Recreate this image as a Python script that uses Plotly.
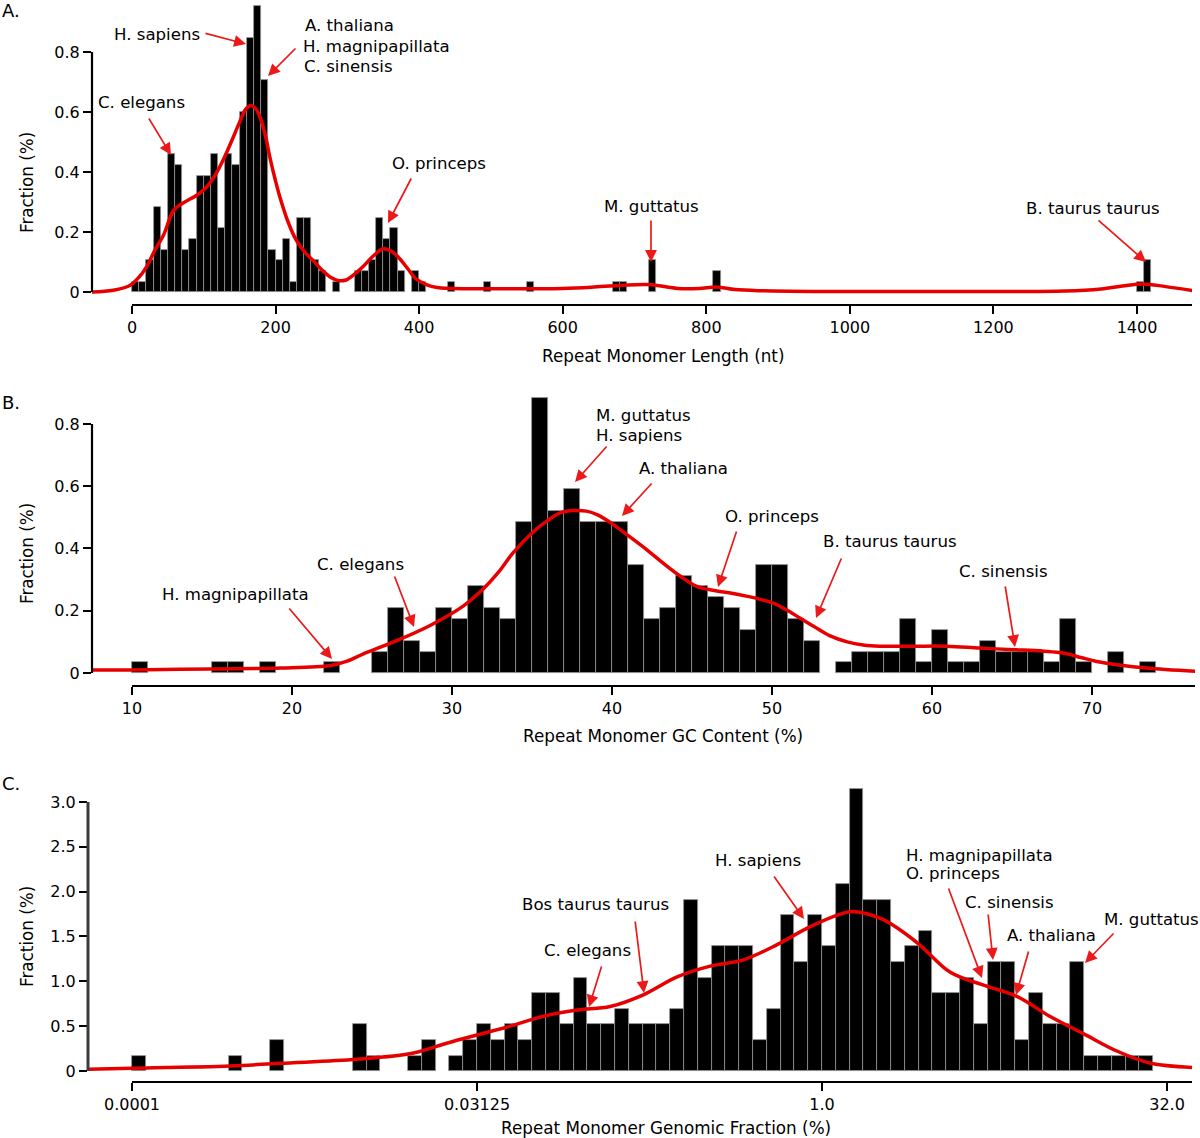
import plotly.graph_objects as go

W, H = 1200, 1138
FONT = "DejaVu Sans"
RED = "rgb(232,0,0)"
ARROW_RED = "rgb(235,25,25)"

# ---------------- Panel A: repeat monomer length (nt), 10-nt bins ----------------
A_len = [0, 10, 20, 30, 40, 50, 60, 70, 80, 90, 100, 110, 120, 130, 140, 150, 160, 170,
         180, 190, 200, 210, 220, 230, 240, 250, 260, 280, 310, 320, 330, 340, 350, 360,
         370, 390, 400, 440, 490, 550, 670, 680, 720, 810, 1400, 1410]
A_frac = [0.035, 0.035, 0.106, 0.282, 0.141, 0.459, 0.424, 0.141, 0.176, 0.388, 0.388,
          0.459, 0.212, 0.459, 0.424, 0.600, 0.847, 0.953, 0.706, 0.141, 0.106, 0.176,
          0.035, 0.247, 0.247, 0.106, 0.071, 0.035, 0.071, 0.071, 0.106, 0.247, 0.176,
          0.212, 0.071, 0.071, 0.035, 0.035, 0.035, 0.035, 0.035, 0.035, 0.106, 0.071,
          0.035, 0.106]
A_curve_x = [-56, -26, -3, 10, 20, 32, 44, 58, 70, 81, 92, 104, 116, 127, 140, 150, 158,
             165, 172, 178, 186, 192, 200, 206, 218, 229, 240, 252, 264, 276, 288, 298,
             310, 322, 336, 350, 362, 373, 385, 395, 410, 425, 445, 500, 560, 600, 640,
             680, 720, 760, 790, 815, 840, 880, 950, 1100, 1300, 1350, 1380, 1408, 1440,
             1477]
A_curve_y = [0.0, 0.006, 0.022, 0.05, 0.083, 0.14, 0.19, 0.272, 0.295, 0.31, 0.325, 0.35,
             0.39, 0.44, 0.51, 0.567, 0.608, 0.622, 0.612, 0.585, 0.52, 0.45, 0.37, 0.317,
             0.23, 0.172, 0.135, 0.106, 0.075, 0.05, 0.038, 0.04, 0.06, 0.085, 0.12, 0.144,
             0.135, 0.111, 0.075, 0.045, 0.025, 0.015, 0.012, 0.011, 0.011, 0.012, 0.016,
             0.022, 0.025, 0.012, 0.012, 0.017, 0.008, 0.004, 0.002, 0.002, 0.003, 0.01,
             0.02, 0.027, 0.018, 0.005]
A_ticks = [0, 200, 400, 600, 800, 1000, 1200, 1400]
A_yticks = [0, 0.2, 0.4, 0.6, 0.8]
A_yticktext = ["0", "0.2", "0.4", "0.6", "0.8"]

# ---------------- Panel B: GC content (%), 1% bins ----------------
B_gc = [10, 15, 16, 18, 22, 25, 26, 27, 28, 29, 30, 31, 32, 33, 34, 35, 36, 37, 38, 39,
        40, 41, 42, 43, 44, 45, 46, 47, 48, 49, 50, 51, 52, 54, 55, 56, 57, 58, 59, 60,
        61, 62, 63, 64, 65, 66, 67, 68, 69, 71, 73]
B_frac = [0.035, 0.035, 0.035, 0.035, 0.035, 0.069, 0.208, 0.104, 0.069, 0.208, 0.173,
          0.278, 0.208, 0.173, 0.486, 0.882, 0.521, 0.590, 0.486, 0.486, 0.486, 0.347,
          0.173, 0.208, 0.312, 0.278, 0.243, 0.208, 0.139, 0.347, 0.347, 0.173, 0.104,
          0.035, 0.069, 0.069, 0.069, 0.173, 0.035, 0.139, 0.035, 0.035, 0.104, 0.069,
          0.069, 0.069, 0.035, 0.173, 0.035, 0.069, 0.035]
B_curve_x = [7.4, 10, 15, 19.3, 22.4, 23.4, 24.4, 26.5, 28.6, 30.7, 31.75, 33.0, 33.8,
             35.0, 35.9, 36.8, 37.6, 38.4, 39.1, 40.0, 41.1, 42.2, 43.2, 44.3, 45.3, 46.4,
             47.4, 48.4, 49.4, 50.2, 50.9, 51.8, 52.6, 53.6, 54.7, 55.7, 56.75, 58.8,
             60.9, 63, 65.1, 67, 68.2, 69.3, 70.3, 71.8, 73.4, 76.5]
B_curve_y = [0.01, 0.01, 0.013, 0.016, 0.024, 0.037, 0.06, 0.103, 0.152, 0.215, 0.26,
             0.33, 0.385, 0.45, 0.487, 0.515, 0.522, 0.52, 0.508, 0.48, 0.438, 0.395,
             0.353, 0.31, 0.278, 0.265, 0.257, 0.247, 0.235, 0.222, 0.203, 0.175, 0.15,
             0.12, 0.10, 0.09, 0.086, 0.086, 0.086, 0.08, 0.075, 0.07, 0.064, 0.05, 0.037,
             0.025, 0.016, 0.005]
B_ticks = [10, 20, 30, 40, 50, 60, 70]
B_yticks = [0, 0.2, 0.4, 0.6, 0.8]
B_yticktext = ["0", "0.2", "0.4", "0.6", "0.8"]

# ---------------- Panel C: genomic fraction (%), log2 bins of 0.2 ----------------
C_log2 = [-10.0, -8.6, -8.0, -6.8, -6.6, -6.0, -5.8, -5.4, -5.2, -5.0, -4.8, -4.6, -4.4,
          -4.2, -4.0, -3.8, -3.6, -3.4, -3.2, -3.0, -2.8, -2.6, -2.4, -2.2, -2.0, -1.8,
          -1.6, -1.4, -1.2, -1.0, -0.8, -0.6, -0.4, -0.2, 0.0, 0.2, 0.4, 0.6, 0.8, 1.0,
          1.2, 1.4, 1.6, 1.8, 2.0, 2.2, 2.4, 2.6, 2.8, 3.0, 3.2, 3.4, 3.6, 3.8, 4.0, 4.2,
          4.4, 4.6]
C_frac = [0.17, 0.17, 0.35, 0.52, 0.17, 0.17, 0.35, 0.17, 0.35, 0.52, 0.35, 0.52, 0.35,
          0.87, 0.87, 0.52, 1.04, 0.52, 0.52, 0.69, 0.52, 0.52, 0.52, 0.69, 1.91, 1.04,
          1.39, 1.39, 1.39, 0.35, 0.69, 1.74, 1.22, 1.74, 1.39, 2.09, 3.14, 1.91, 1.91,
          1.22, 1.39, 1.56, 0.87, 0.87, 1.04, 0.52, 1.22, 1.22, 0.35, 0.87, 0.52, 0.52,
          1.22, 0.17, 0.17, 0.17, 0.17, 0.17]
C_curve_x = [-10.65, -10.0, -8.58, -7.86, -6.74, -5.92, -5.44, -4.96, -4.52, -4.04, -3.55,
             -3.07, -2.59, -2.10, -1.62, -1.14, -0.65, -0.17, 0.31, 0.45, 0.88, 1.38,
             1.86, 2.33, 2.83, 3.30, 3.78, 4.28, 4.75, 5.37]
C_curve_y = [0.02, 0.03, 0.056, 0.086, 0.13, 0.2, 0.31, 0.41, 0.50, 0.61, 0.68, 0.72,
             0.85, 1.05, 1.17, 1.24, 1.41, 1.61, 1.76, 1.78, 1.69, 1.43, 1.10, 0.96, 0.83,
             0.61, 0.42, 0.22, 0.09, 0.04]
C_ticks = [-10, -5, 0, 5]
C_ticktext = ["0.0001", "0.03125", "1.0", "32.0"]
C_yticks = [0, 0.5, 1.0, 1.5, 2.0, 2.5, 3.0]
C_yticktext = ["0", "0.5", "1.0", "1.5", "2.0", "2.5", "3.0"]

# ---------------- labels (text, left px, center-y px) ----------------
labels = [
    ("H. sapiens", 112, 34), ("A. thaliana", 303, 26), ("H. magnipapillata", 301, 46),
    ("C. sinensis", 302, 66), ("C. elegans", 96, 102), ("O. princeps", 390, 163),
    ("M. guttatus", 602, 207), ("B. taurus taurus", 1024, 208),
    ("M. guttatus", 594, 415), ("H. sapiens", 594, 435), ("A. thaliana", 637, 469),
    ("O. princeps", 723, 516), ("B. taurus taurus", 821, 541), ("C. sinensis", 957, 571),
    ("C. elegans", 315, 564), ("H. magnipapillata", 160, 594),
    ("Bos taurus taurus", 520, 904), ("C. elegans", 542, 950), ("H. sapiens", 713, 860),
    ("H. magnipapillata", 904, 855), ("O. princeps", 904, 873), ("C. sinensis", 963, 902),
    ("A. thaliana", 1005, 935), ("M. guttatus", 1102, 919),
]
# arrows: (tail x, tail y, head x, head y) in px
arrows = [
    (204, 33, 246, 44), (297, 47, 268, 76), (148, 117, 171, 155), (412, 177, 388, 223),
    (651, 219, 651, 262), (1097, 219, 1146, 262),
    (608, 445, 575, 482), (653, 482, 622, 516), (737, 530, 718, 587), (842, 557, 816, 618),
    (1005, 585, 1015, 647), (394, 575, 414, 627), (288, 607, 332, 659),
    (635, 920, 644, 993), (602, 965, 589, 1007), (773, 875, 804, 919), (948, 887, 982, 978),
    (988, 913, 993, 960), (1029, 950, 1016, 995), (1115, 932, 1085, 963),
]

def pxx(p):
    return p / W

def pxy(p):
    return 1 - p / H

fig = go.Figure()
bar_marker = dict(color="black", line=dict(color="rgb(150,150,150)", width=0.8))
line_style = dict(color=RED, width=3.5, shape="spline", smoothing=1.0)

fig.add_trace(go.Bar(x=A_len, y=A_frac, width=10, offset=0, marker=bar_marker,
                     xaxis="x", yaxis="y", showlegend=False, hoverinfo="skip"))
fig.add_trace(go.Scatter(x=A_curve_x, y=A_curve_y, mode="lines", line=line_style,
                         xaxis="x", yaxis="y", showlegend=False, hoverinfo="skip"))
fig.add_trace(go.Bar(x=B_gc, y=B_frac, width=1, offset=0, marker=bar_marker,
                     xaxis="x2", yaxis="y2", showlegend=False, hoverinfo="skip"))
fig.add_trace(go.Scatter(x=B_curve_x, y=B_curve_y, mode="lines", line=line_style,
                         xaxis="x2", yaxis="y2", showlegend=False, hoverinfo="skip"))
fig.add_trace(go.Bar(x=C_log2, y=C_frac, width=0.2, offset=0, marker=bar_marker,
                     xaxis="x3", yaxis="y3", showlegend=False, hoverinfo="skip"))
fig.add_trace(go.Scatter(x=C_curve_x, y=C_curve_y, mode="lines", line=line_style,
                         xaxis="x3", yaxis="y3", showlegend=False, hoverinfo="skip"))

ax_common = dict(showgrid=False, zeroline=False, showline=False, ticks="outside",
                 ticklen=8, tickwidth=1.5, tickcolor="black",
                 tickfont=dict(family=FONT, size=16, color="black"), fixedrange=True)

layout = dict(
    width=W, height=H, margin=dict(l=0, r=0, t=0, b=0),
    paper_bgcolor="white", plot_bgcolor="white", bargap=0, showlegend=False,
    font=dict(family=FONT, size=16, color="black"),
    xaxis=dict(domain=[pxx(92), pxx(1192)], range=[-55.7, 1476.6], anchor="y",
               tickvals=A_ticks, **ax_common),
    yaxis=dict(domain=[pxy(305), pxy(2)], range=[-0.0433, 0.9667], anchor="x",
               tickvals=A_yticks, ticktext=A_yticktext, **ax_common),
    xaxis2=dict(domain=[pxx(92), pxx(1195)], range=[7.5, 76.44], anchor="y2",
                tickvals=B_ticks, **ax_common),
    yaxis2=dict(domain=[pxy(686), pxy(392)], range=[-0.0418, 0.9028], anchor="x2",
                tickvals=B_yticks, ticktext=B_yticktext, **ax_common),
    xaxis3=dict(domain=[pxx(88), pxx(1192)], range=[-10.638, 5.362], anchor="y3",
                tickvals=C_ticks, ticktext=C_ticktext, **ax_common),
    yaxis3=dict(domain=[pxy(1082), pxy(785)], range=[-0.1227, 3.1895], anchor="x3",
                tickvals=C_yticks, ticktext=C_yticktext, **ax_common),
)
fig.update_layout(**layout)

shapes = [
    # axis lines
    dict(type="line", xref="x", yref="paper", x0=0, x1=1476.6, y0=pxy(305), y1=pxy(305),
         line=dict(color="black", width=2.2)),
    dict(type="line", xref="paper", yref="y", x0=pxx(92), x1=pxx(92), y0=0, y1=0.8,
         line=dict(color="black", width=2.2)),
    dict(type="line", xref="x2", yref="paper", x0=10, x1=76.44, y0=pxy(686), y1=pxy(686),
         line=dict(color="black", width=2.2)),
    dict(type="line", xref="paper", yref="y2", x0=pxx(92), x1=pxx(92), y0=0, y1=0.8,
         line=dict(color="black", width=2.2)),
    dict(type="line", xref="x3", yref="paper", x0=-10, x1=5.362, y0=pxy(1082), y1=pxy(1082),
         line=dict(color="black", width=2.2)),
    dict(type="line", xref="paper", yref="y3", x0=pxx(88), x1=pxx(88), y0=0, y1=3.0,
         line=dict(color="rgb(60,60,60)", width=3)),
]
fig.update_layout(shapes=shapes)

ann = []
for t, x, y in labels:
    ann.append(dict(text=t, xref="paper", yref="paper", x=pxx(x), y=pxy(y),
                    xanchor="left", yanchor="middle", showarrow=False,
                    font=dict(family=FONT, size=16.6, color="black")))
for tx, ty, hx, hy in arrows:
    ann.append(dict(text="", xref="paper", yref="paper", x=pxx(hx), y=pxy(hy),
                    ax=tx - hx, ay=ty - hy, axref="pixel", ayref="pixel",
                    showarrow=True, arrowhead=2, arrowsize=1.4, arrowwidth=1.7,
                    arrowcolor=ARROW_RED, standoff=0, startstandoff=0))
# panel letters
for t, y in [("A.", 11), ("B.", 402), ("C.", 783)]:
    ann.append(dict(text=t, xref="paper", yref="paper", x=0, y=pxy(y), xanchor="left",
                    yanchor="middle", showarrow=False,
                    font=dict(family=FONT, size=18, color="black")))
# axis titles
for t, x, y in [("Repeat Monomer Length (nt)", 663, 356),
                ("Repeat Monomer GC Content (%)", 663, 736),
                ("Repeat Monomer Genomic Fraction (%)", 666, 1128)]:
    ann.append(dict(text=t, xref="paper", yref="paper", x=pxx(x), y=pxy(y),
                    xanchor="center", yanchor="middle", showarrow=False,
                    font=dict(family=FONT, size=16.8, color="black")))
for y in [183, 554, 937]:
    ann.append(dict(text="Fraction (%)", xref="paper", yref="paper", x=pxx(27), y=pxy(y),
                    xanchor="center", yanchor="middle", showarrow=False, textangle=-90,
                    font=dict(family=FONT, size=16.8, color="black")))
fig.update_layout(annotations=ann)

fig.write_html("out.html", config={"displayModeBar": False},
               post_script="document.body.style.margin='0px';document.body.style.overflow='hidden';")
